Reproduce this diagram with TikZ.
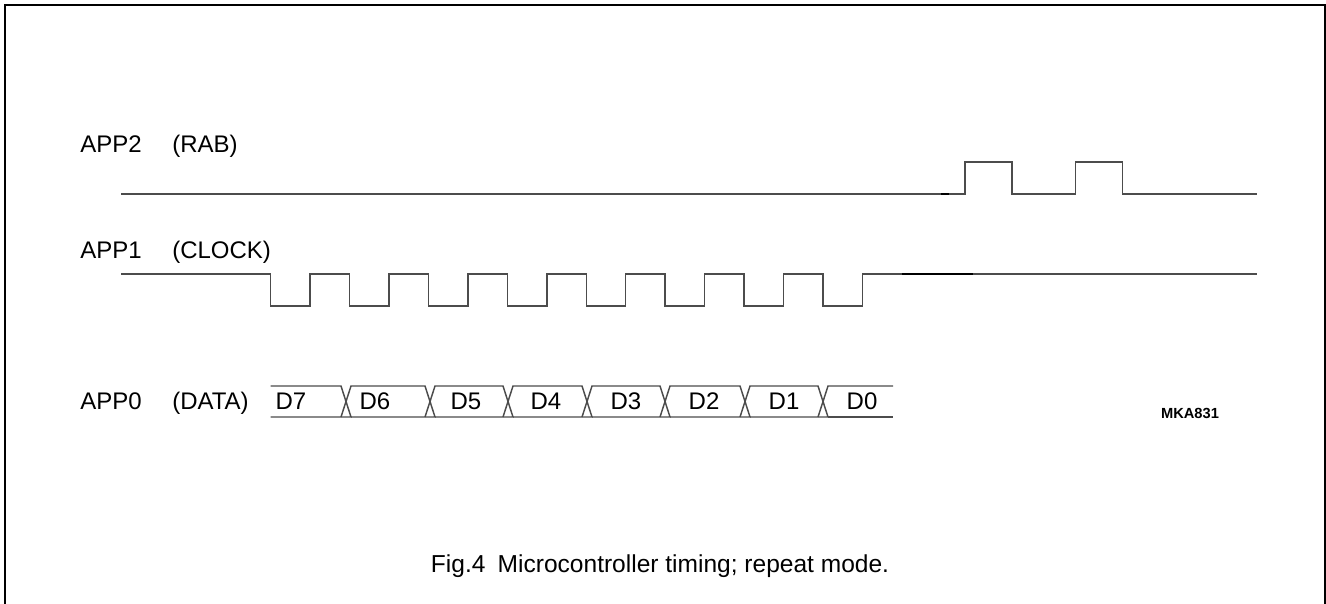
\documentclass[tikz,border=0pt]{standalone}
\usepackage{fontspec}
\setmainfont{Liberation Sans}
\begin{document}
\begin{tikzpicture}[x=0.75pt,y=-0.75pt,
  wave/.style={draw=black!70,line width=1.1pt,line join=miter},
  glitch/.style={draw=black,line width=1.6pt},
  lbl/.style={inner sep=0pt,anchor=base west,font=\fontsize{18}{20}\selectfont},
  dlbl/.style={inner sep=0pt,anchor=base,font=\fontsize{18}{20}\selectfont},
  frame/.style={draw=black,line width=1.6pt}]
\useasboundingbox (0,0) rectangle (1326,603);
\draw[frame] (5,612) -- (5,5) -- (1325,5) -- (1325,612);
% labels
\node[lbl] (a2) at (80,152) {APP2};
\node[lbl] (a2s) at (172,152) {(RAB)};
\node[lbl] (a1) at (80,258) {APP1};
\node[lbl] (a1s) at (172,258) {(CLOCK)};
\node[lbl] (a0) at (80,409) {APP0};
\node[lbl] (a0s) at (172,409) {(DATA)};
% APP2 (RAB)
\draw[wave] (121,194) -- (965,194) -- (965,162) -- (1012,162) -- (1012,194)
  -- (1075.7,194) -- (1075.7,162) -- (1122.7,162) -- (1122.7,194) -- (1257,194);
\draw[glitch] (941,194) -- (949,194);
% APP1 (CLOCK)
\draw[wave] (121,274) \foreach \k in {0,...,7} {
  -- ({270.7+78.9*\k},274) -- ({270.7+78.9*\k},306)
  -- ({310.1+78.9*\k},306) -- ({310.1+78.9*\k},274) } -- (1257,274);
\draw[glitch] (902,274) -- (973,274);
% APP0 (DATA)
\def\yt{386}\def\yb{417}\def\hw{5}
\draw[wave] (270.7,\yt) -- (341,\yt) -- (351,\yb) -- (270.7,\yb);
\foreach \a/\b in {346/430,430/508,508/587,587/665,665/745,745/823} {
  \draw[wave] (\a-\hw,\yb) -- (\a+\hw,\yt) -- (\b-\hw,\yt) -- (\b+\hw,\yb) -- (\a+\hw,\yb);
}
\draw[wave] (823-\hw,\yb) -- (823+\hw,\yt) -- (893,\yt);
\draw[wave] (823+\hw,\yb) -- (893,\yb);
\foreach \x/\t in {291/D7,375/D6,466/D5,546/D4,626/D3,704/D2,784/D1,862/D0} {
  \node[dlbl] (d\t) at (\x,409) {\t};
}
\node[inner sep=0pt,font=\fontsize{11}{12}\selectfont\bfseries] (id) at (1190,413) {MKA831};
\node[inner sep=0pt,font=\fontsize{18.4}{20}\selectfont] (cap) at (660,566) {Fig.4\enspace Microcontroller timing; repeat mode.};
\end{tikzpicture}
\end{document}
